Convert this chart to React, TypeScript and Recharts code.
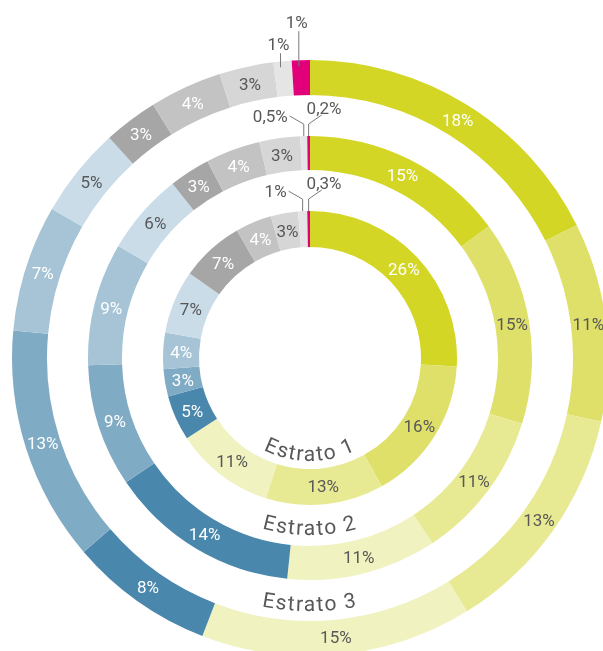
import React from 'react';
import { PieChart, Pie, Cell, Customized } from 'recharts';

const categories = ['A1', 'A2', 'A3', 'A4', 'B1', 'B2', 'B3', 'B4', 'C1', 'C2', 'C3', 'C4', 'D'];
const estrato1 = [26, 16, 13, 11, 5, 3, 4, 7, 7, 4, 3, 1, 0.3];
const estrato2 = [15, 15, 11, 11, 14, 9, 9, 6, 3, 4, 3, 0.5, 0.2];
const estrato3 = [18, 11, 13, 15, 8, 13, 7, 5, 3, 4, 3, 1, 1];
const ringNames = ['Estrato 1', 'Estrato 2', 'Estrato 3'];

const COLORS = [
  '#d3d624', '#dfe06a', '#e8ea93', '#f0f2c0',
  '#4a87ad', '#80abc5', '#a6c4d6', '#c9dce8',
  '#a6a6a6', '#c3c3c3', '#d6d6d6', '#e5e5e5',
  '#e2007a',
];
const DARK_LABEL = [false, true, true, true, false, false, false, true, false, false, true, true, true];

const W = 603;
const H = 651;
const CX = 310;
const CY = 358;
const RINGS = [
  { inner: 111, outer: 147, textR: 103 },
  { inner: 188, outer: 222, textR: 177 },
  { inner: 263, outer: 298, textR: 253 },
];

const FONT = 'Roboto, "DejaVu Sans", sans-serif';
const DARK = '#585858';
const LINE = '#7a7a7a';
const RAD = Math.PI / 180;

const fmt = (v: number) => String(v).replace('.', ',') + '%';

const toData = (vals: number[]) => vals.map((v, i) => ({ name: categories[i], value: v }));
const ringData = [toData(estrato1), toData(estrato2), toData(estrato3)];

function makeLabel(ring: number) {
  return (props: any) => {
    const { cx, cy, midAngle, innerRadius, outerRadius, index, value } = props;
    const cosA = Math.cos(-midAngle * RAD);
    const sinA = Math.sin(-midAngle * RAD);
    const text = fmt(value);
    if (index >= 11) {
      const ax = cx + outerRadius * cosA;
      const ay = cy + outerRadius * sinA;
      if (ring === 2) {
        const len = index === 12 ? 35 : 14;
        const x0 = ax - 2;
        return (
          <g key={`l-${ring}-${index}`}>
            <line x1={x0} y1={ay + 6} x2={x0} y2={ay + 6 - len} stroke={LINE} strokeWidth={1} />
            <text x={x0 - 2} y={ay + 6 - len - 9} textAnchor="middle" dominantBaseline="central"
              fill={DARK} fontSize={17} fontFamily={FONT}>{text}</text>
          </g>
        );
      }
      if (index === 11) {
        return (
          <g key={`l-${ring}-${index}`}>
            <polyline points={`${ax},${ay} ${ax},${ay - 12} ${ax - 14},${ay - 20}`} fill="none" stroke={LINE} strokeWidth={1} />
            <text x={ax - 16} y={ay - 20} textAnchor="end" dominantBaseline="central"
              fill={DARK} fontSize={17} fontFamily={FONT}>{text}</text>
          </g>
        );
      }
      return (
        <g key={`l-${ring}-${index}`}>
          <polyline points={`${ax},${ay} ${ax},${ay - 12} ${ax + 13},${ay - 21}`} fill="none" stroke={LINE} strokeWidth={1} />
          <text x={ax - 2} y={ay - 28} textAnchor="start" dominantBaseline="central"
            fill={DARK} fontSize={17} fontFamily={FONT}>{text}</text>
        </g>
      );
    }
    const r = (innerRadius + outerRadius) / 2;
    const x = cx + r * cosA;
    const y = cy + r * sinA;
    return (
      <text key={`l-${ring}-${index}`} x={x} y={y} textAnchor="middle" dominantBaseline="central"
        fill={DARK_LABEL[index] ? DARK : '#ffffff'} fontSize={17} fontFamily={FONT}>{text}</text>
    );
  };
}

const RingTitles = () => (
  <g>
    <defs>
      {RINGS.map((rg, i) => (
        <path key={i} id={`estrato-arc-${i}`}
          d={`M ${CX - rg.textR} ${CY} A ${rg.textR} ${rg.textR} 0 0 0 ${CX + rg.textR} ${CY}`} fill="none" />
      ))}
    </defs>
    {RINGS.map((rg, i) => (
      <text key={i} fill={DARK} fontSize={21} fontFamily={FONT} letterSpacing={1.5}>
        <textPath href={`#estrato-arc-${i}`} startOffset="50%" textAnchor="middle">{ringNames[i]}</textPath>
      </text>
    ))}
  </g>
);

export default function App() {
  return (
    <div style={{ position: 'fixed', top: 0, left: 0, width: W, height: H, overflow: 'hidden' }}>
      <PieChart width={W} height={H} margin={{ top: 0, right: 0, bottom: 0, left: 0 }}>
        {RINGS.map((rg, ri) => (
          <Pie
            key={ri}
            data={ringData[ri]}
            dataKey="value"
            nameKey="name"
            cx={CX}
            cy={CY}
            innerRadius={rg.inner}
            outerRadius={rg.outer}
            startAngle={90}
            endAngle={-270}
            stroke="none"
            labelLine={false}
            label={makeLabel(ri)}
            isAnimationActive={false}
          >
            {ringData[ri].map((d, i) => (
              <Cell key={d.name} fill={COLORS[i]} />
            ))}
          </Pie>
        ))}
        <Customized component={<RingTitles />} />
      </PieChart>
    </div>
  );
}
